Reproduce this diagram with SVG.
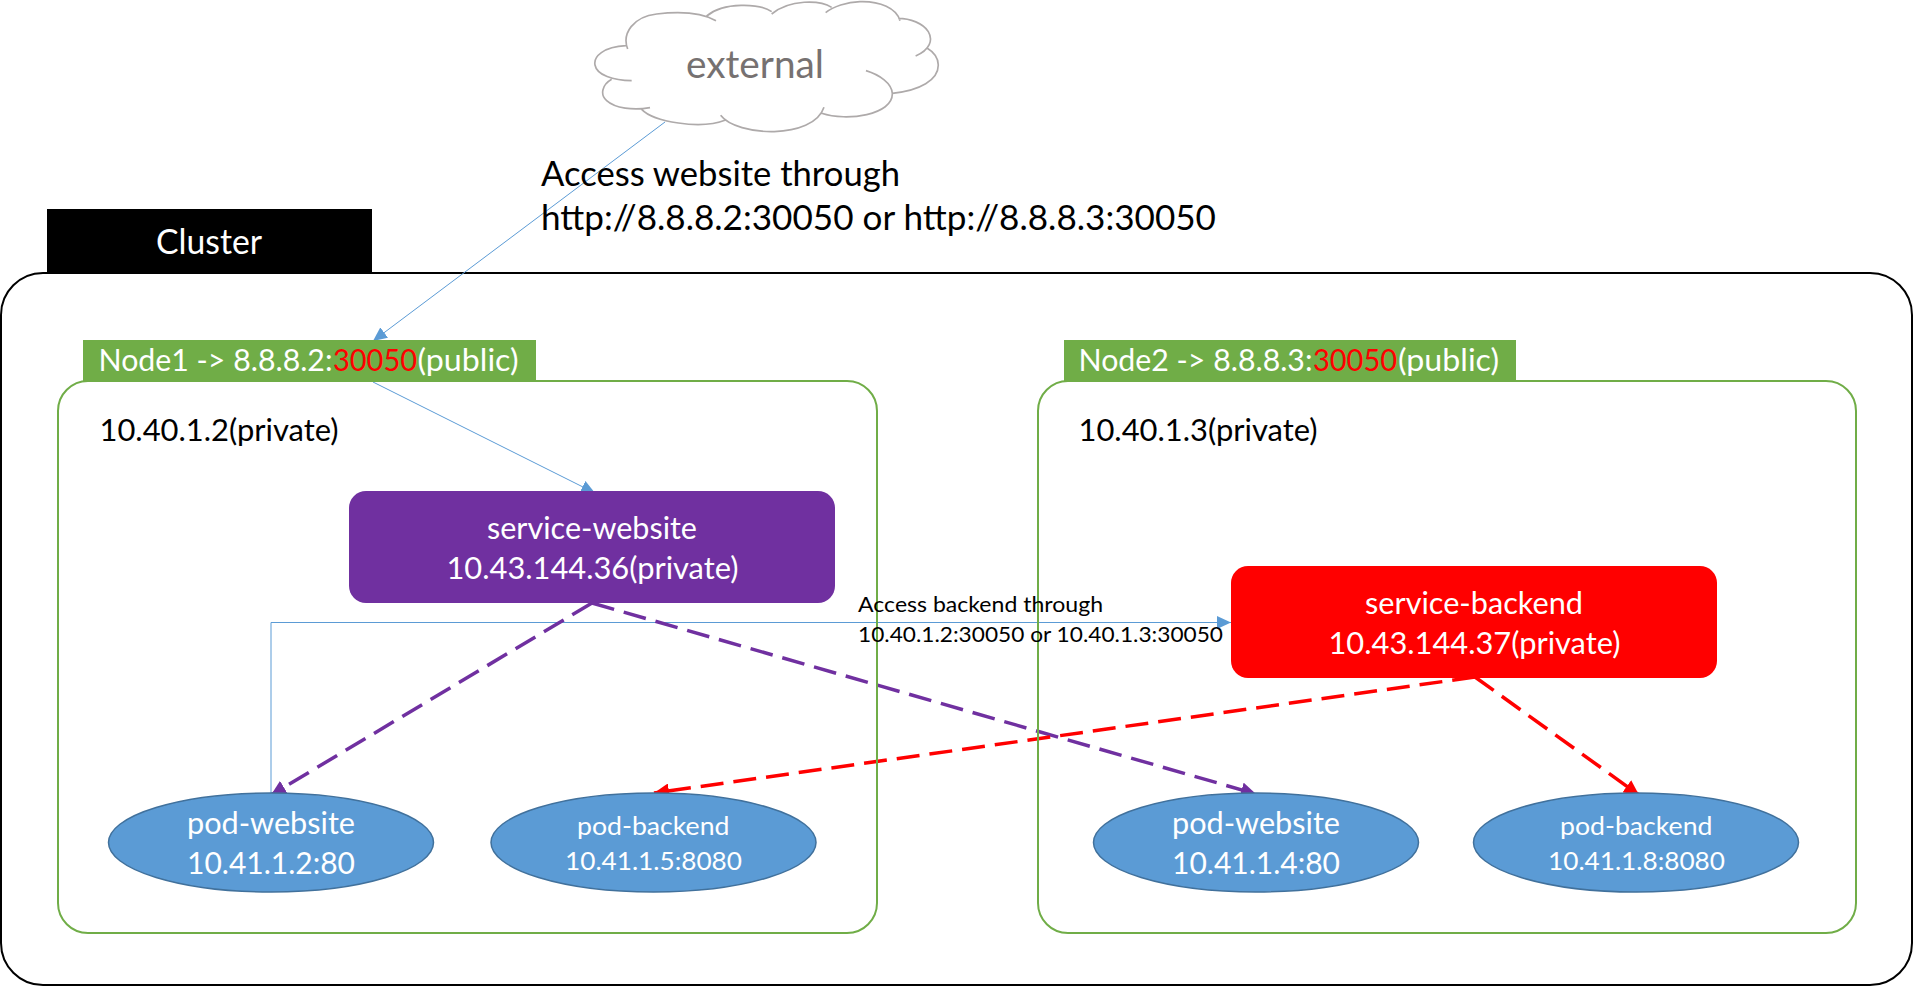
<svg xmlns="http://www.w3.org/2000/svg" width="1913" height="987" viewBox="0 0 1913 987">
<style>
text{font-family:"Lato","Open Sans","Liberation Sans",sans-serif}
.w{fill:#fff}.k{fill:#000}
.f{fill:none;stroke:#70ad47;stroke-width:2}
.t{fill:#70ad47}
.e{fill:#5b9bd5;stroke:#41719c;stroke-width:1.5}
.b{fill:none;stroke:#5b9bd5;stroke-width:1}
.p{fill:none;stroke:#7030a0;stroke-width:3.500;stroke-dasharray:23 10}
.r{fill:none;stroke:#f00;stroke-width:3.500;stroke-dasharray:23 10}
.c{fill:none;stroke:#aeaaaa;stroke-width:5}
</style>
<defs>
<marker id="ab" markerUnits="userSpaceOnUse" markerWidth="14" markerHeight="13" refX="14" refY="6.500" orient="auto"><path d="M0,0L14,6.500L0,13z" fill="#5b9bd5"/></marker>
<marker id="ap" markerUnits="userSpaceOnUse" markerWidth="15" markerHeight="15" refX="15" refY="7.500" orient="auto"><path d="M0,0L15,7.500L0,15z" fill="#7030a0"/></marker>
<marker id="ar" markerUnits="userSpaceOnUse" markerWidth="15" markerHeight="15" refX="15" refY="7.500" orient="auto"><path d="M0,0L15,7.500L0,15z" fill="#f00"/></marker>
</defs>
<rect width="1913" height="987" fill="#fff"/>
<g id="cluster">
<rect x="1" y="273" width="1911" height="712" rx="42" fill="#fff" stroke="#000" stroke-width="2"/>
<rect x="47" y="209" width="325" height="63" class="k"/>
<text x="156" y="254" font-size="34" textLength="106" lengthAdjust="spacingAndGlyphs" class="w">Cluster</text>
</g>
<g id="external">
<g transform="translate(560 0) scale(.3333)">
<path class="c" d="M198,137C130,140 100,170 105,195C110,225 160,242 215,242M155,238C125,255 120,285 140,302C165,325 220,332 270,323M245,328C280,365 420,390 497,360M482,346C530,410 760,420 792,322M785,340C860,365 1000,345 997,280C995,250 960,225 918,212M997,280C1080,272 1135,240 1135,195C1135,170 1120,155 1100,143M1067,168C1110,150 1120,120 1105,95C1090,70 1050,55 1015,55M1020,62C1010,25 960,3 900,5C860,6 820,20 797,38M815,22C780,0 690,-3 635,42M635,35C600,10 490,5 440,48M468,62C420,35 350,35 290,42C220,50 185,100 203,147"/>
</g>
<text x="686" y="78" font-size="39" textLength="138" lengthAdjust="spacingAndGlyphs" fill="#767171">external</text>
</g>
<g id="connectors">
<path class="b" marker-end="url(#ab)" d="M665,122L373,341"/>
<path class="b" marker-end="url(#ab)" d="M373,382L595,493"/>
<path class="b" marker-end="url(#ab)" d="M271,793V622.500H1231"/>
<path class="p" marker-end="url(#ap)" d="M592,603L271,795"/>
<path class="p" marker-end="url(#ap)" d="M592,603L1256,794"/>
<path class="r" marker-end="url(#ar)" d="M1475,677L654,793"/>
<path class="r" marker-end="url(#ar)" d="M1475,677L1639,795"/>
</g>
<g id="node1">
<rect x="58" y="381" width="819" height="552" rx="30" class="f"/>
<rect x="83" y="340" width="453" height="41" class="t"/>
<text y="371" font-size="30" class="w"><tspan x="98.500" textLength="234" lengthAdjust="spacingAndGlyphs">Node1 -&gt; 8.8.8.2:</tspan><tspan x="333" textLength="84" lengthAdjust="spacingAndGlyphs" fill="#f00">30050</tspan><tspan x="417.500" textLength="101" lengthAdjust="spacingAndGlyphs">(public)</tspan></text>
<text x="99.500" y="441" font-size="30" textLength="239" lengthAdjust="spacingAndGlyphs" class="k">10.40.1.2(private)</text>
</g>
<g id="node2">
<rect x="1038" y="381" width="818" height="552" rx="30" class="f"/>
<rect x="1064" y="340" width="452" height="41" class="t"/>
<text y="371" font-size="30" class="w"><tspan x="1078.500" textLength="234" lengthAdjust="spacingAndGlyphs">Node2 -&gt; 8.8.8.3:</tspan><tspan x="1313" textLength="84" lengthAdjust="spacingAndGlyphs" fill="#f00">30050</tspan><tspan x="1398" textLength="101" lengthAdjust="spacingAndGlyphs">(public)</tspan></text>
<text x="1078.500" y="441" font-size="30" textLength="239" lengthAdjust="spacingAndGlyphs" class="k">10.40.1.3(private)</text>
</g>
<g id="labels">
<text x="541" y="186" font-size="34" textLength="359" lengthAdjust="spacingAndGlyphs" class="k">Access website through</text>
<text x="541" y="230" font-size="34" textLength="675" lengthAdjust="spacingAndGlyphs" class="k">http://8.8.8.2:30050 or http://8.8.8.3:30050</text>
<text x="858" y="612" font-size="22" textLength="245" lengthAdjust="spacingAndGlyphs" class="k">Access backend through</text>
<text x="858" y="642" font-size="22" textLength="365" lengthAdjust="spacingAndGlyphs" class="k">10.40.1.2:30050 or 10.40.1.3:30050</text>
</g>
<g id="service-website">
<rect x="349" y="491" width="486" height="112" rx="17" fill="#7030a0"/>
<text x="487" y="539" font-size="30" textLength="210" lengthAdjust="spacingAndGlyphs" class="w">service-website</text>
<text x="446.500" y="579" font-size="30" textLength="292" lengthAdjust="spacingAndGlyphs" class="w">10.43.144.36(private)</text>
</g>
<g id="service-backend">
<rect x="1231" y="566" width="486" height="112" rx="17" fill="#f00"/>
<text x="1365" y="614" font-size="30" textLength="218" lengthAdjust="spacingAndGlyphs" class="w">service-backend</text>
<text x="1328.500" y="654" font-size="30" textLength="292" lengthAdjust="spacingAndGlyphs" class="w">10.43.144.37(private)</text>
</g>
<g id="pod-website-1">
<ellipse cx="271" cy="842.500" rx="162.500" ry="49.500" class="e"/>
<text x="187" y="834" font-size="30" textLength="168" lengthAdjust="spacingAndGlyphs" class="w">pod-website</text>
<text x="187" y="874" font-size="30" textLength="168" lengthAdjust="spacingAndGlyphs" class="w">10.41.1.2:80</text>
</g>
<g id="pod-backend-1">
<ellipse cx="653.500" cy="842.500" rx="162.500" ry="49.500" class="e"/>
<text x="577" y="835" font-size="25" textLength="152.500" lengthAdjust="spacingAndGlyphs" class="w">pod-backend</text>
<text x="565" y="870" font-size="25" textLength="177" lengthAdjust="spacingAndGlyphs" class="w">10.41.1.5:8080</text>
</g>
<g id="pod-website-2">
<ellipse cx="1256" cy="842.500" rx="162.500" ry="49.500" class="e"/>
<text x="1172" y="834" font-size="30" textLength="168" lengthAdjust="spacingAndGlyphs" class="w">pod-website</text>
<text x="1172" y="874" font-size="30" textLength="168" lengthAdjust="spacingAndGlyphs" class="w">10.41.1.4:80</text>
</g>
<g id="pod-backend-2">
<ellipse cx="1636" cy="842.500" rx="162.500" ry="49.500" class="e"/>
<text x="1560" y="835" font-size="25" textLength="152.500" lengthAdjust="spacingAndGlyphs" class="w">pod-backend</text>
<text x="1548" y="870" font-size="25" textLength="177" lengthAdjust="spacingAndGlyphs" class="w">10.41.1.8:8080</text>
</g>
</svg>
